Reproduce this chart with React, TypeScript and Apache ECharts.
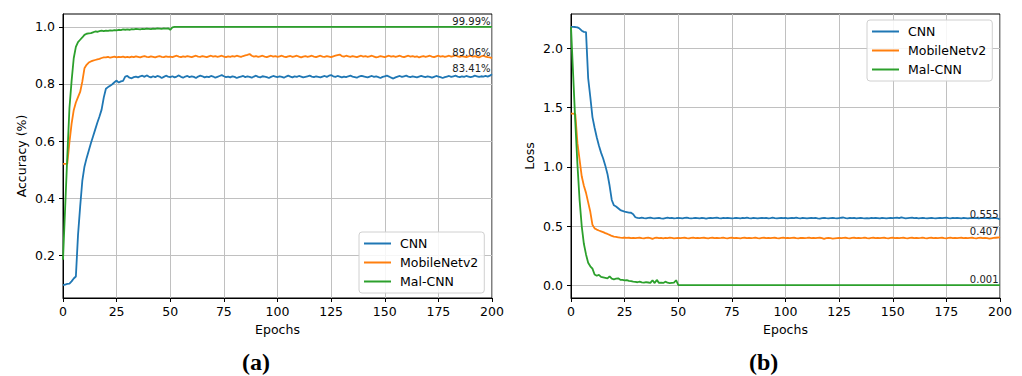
import React, { useEffect, useRef } from "react";
import * as echarts from "echarts";

const names = ["CNN", "MobileNetv2", "Mal-CNN"];
const colors = ["#1f77b4", "#ff7f0e", "#2ca02c"];

const accTicks = [0.2, 0.4, 0.6, 0.8, 1.0];
const lossTicks = [0.0, 0.5, 1.0, 1.5, 2.0];
const accFinal = [83.41, 89.06, 99.99];
const lossFinal = [0.555, 0.407, 0.001];

// Accuracy, epochs 0..200
const cnnAcc = [
  0.095, 0.097, 0.099, 0.100, 0.108, 0.118, 0.125, 0.270, 0.370, 0.460,
  0.510, 0.540, 0.566, 0.592, 0.616, 0.640, 0.664, 0.686, 0.710, 0.752,
  0.783, 0.789, 0.794, 0.799, 0.806, 0.812, 0.805, 0.809, 0.811, 0.826,
  0.828, 0.822, 0.820, 0.824, 0.826, 0.823, 0.827, 0.829, 0.825, 0.830,
  0.826, 0.823, 0.827, 0.824, 0.828, 0.826, 0.821, 0.825, 0.829, 0.826,
  0.824, 0.827, 0.823, 0.826, 0.830, 0.825, 0.822, 0.826, 0.828, 0.824,
  0.827, 0.825, 0.821, 0.826, 0.829, 0.827, 0.823, 0.826, 0.824, 0.828,
  0.826, 0.822, 0.825, 0.828, 0.831, 0.827, 0.824, 0.826, 0.823, 0.827,
  0.825, 0.821, 0.824, 0.826, 0.828, 0.824, 0.827, 0.825, 0.822, 0.826,
  0.829, 0.825, 0.823, 0.827, 0.826, 0.824, 0.821, 0.825, 0.828, 0.826,
  0.824, 0.827, 0.825, 0.822, 0.826, 0.829, 0.826, 0.823, 0.827, 0.825,
  0.828, 0.826, 0.823, 0.825, 0.827, 0.829, 0.826, 0.824, 0.827, 0.825,
  0.823, 0.826, 0.828, 0.825, 0.829, 0.831, 0.827, 0.825, 0.828, 0.826,
  0.823, 0.826, 0.824, 0.827, 0.829, 0.826, 0.824, 0.822, 0.826, 0.828,
  0.827, 0.825, 0.823, 0.826, 0.828, 0.825, 0.827, 0.824, 0.821, 0.825,
  0.827, 0.829, 0.826, 0.822, 0.819, 0.823, 0.826, 0.828, 0.825, 0.827,
  0.829, 0.826, 0.824, 0.827, 0.825, 0.823, 0.826, 0.828, 0.826, 0.824,
  0.827, 0.825, 0.822, 0.825, 0.828, 0.826, 0.824, 0.821, 0.824, 0.826,
  0.828, 0.825, 0.827, 0.829, 0.826, 0.824, 0.827, 0.825, 0.828, 0.826,
  0.824, 0.826, 0.829, 0.827, 0.825, 0.827, 0.826, 0.828, 0.826, 0.829,
  0.834,
];

const mobAcc = [
  0.520, 0.520, 0.521, 0.595, 0.660, 0.708, 0.735, 0.754, 0.772, 0.808,
  0.855, 0.867, 0.875, 0.879, 0.882, 0.884, 0.886, 0.888, 0.891, 0.893,
  0.893, 0.895, 0.892, 0.894, 0.896, 0.893, 0.895, 0.894, 0.896, 0.893,
  0.895, 0.893, 0.896, 0.894, 0.897, 0.895, 0.893, 0.896, 0.898, 0.895,
  0.894, 0.897, 0.895, 0.893, 0.896, 0.898, 0.895, 0.894, 0.897, 0.895,
  0.896, 0.894, 0.897, 0.899, 0.896, 0.894, 0.897, 0.895, 0.898, 0.896,
  0.894, 0.897, 0.899, 0.896, 0.895, 0.898, 0.896, 0.894, 0.897, 0.899,
  0.896, 0.898, 0.895, 0.897, 0.899, 0.896, 0.894, 0.897, 0.895, 0.898,
  0.896, 0.899, 0.897, 0.895, 0.898, 0.900, 0.902, 0.905, 0.899, 0.896,
  0.898, 0.895, 0.897, 0.899, 0.896, 0.894, 0.897, 0.899, 0.896, 0.898,
  0.895, 0.897, 0.899, 0.896, 0.894, 0.897, 0.898, 0.895, 0.897, 0.899,
  0.896, 0.893, 0.896, 0.898, 0.895, 0.897, 0.899, 0.896, 0.894, 0.897,
  0.899, 0.896, 0.895, 0.898, 0.896, 0.894, 0.897, 0.899, 0.901, 0.903,
  0.898, 0.896, 0.899, 0.897, 0.895, 0.898, 0.896, 0.894, 0.897, 0.899,
  0.896, 0.898, 0.895, 0.897, 0.899, 0.896, 0.893, 0.895, 0.898, 0.896,
  0.894, 0.897, 0.899, 0.896, 0.898, 0.895, 0.897, 0.899, 0.896, 0.894,
  0.897, 0.899, 0.896, 0.898, 0.895, 0.897, 0.893, 0.896, 0.898, 0.895,
  0.897, 0.899, 0.896, 0.894, 0.897, 0.899, 0.896, 0.898, 0.895, 0.897,
  0.899, 0.896, 0.898, 0.900, 0.897, 0.895, 0.898, 0.896, 0.894, 0.897,
  0.899, 0.896, 0.898, 0.895, 0.893, 0.897, 0.899, 0.896, 0.894, 0.893,
  0.8906,
];

const malAcc = [
  0.184, 0.365, 0.545, 0.715, 0.810, 0.890, 0.930, 0.947, 0.955, 0.963,
  0.972, 0.976, 0.977, 0.978, 0.981, 0.984, 0.983, 0.985, 0.987, 0.985,
  0.987, 0.986, 0.988, 0.987, 0.989, 0.988, 0.990, 0.989, 0.991, 0.990,
  0.991, 0.990, 0.992, 0.991, 0.993, 0.992, 0.991, 0.993, 0.992, 0.994,
  0.993, 0.992, 0.994, 0.993, 0.995, 0.994, 0.993, 0.995, 0.994, 0.995,
  0.990, 0.998, 0.9999, 0.9999, 0.9998, 0.9999, 0.9999, 0.9999, 0.9998, 0.9999,
  0.9999, 0.9999, 0.9998, 0.9999, 0.9999, 0.9999, 0.9999, 0.9998, 0.9999, 0.9999,
  0.9999, 0.9998, 0.9999, 0.9999, 0.9999, 0.9999, 0.9999, 0.9998, 0.9999, 0.9999,
  0.9999, 0.9999, 0.9999, 0.9998, 0.9999, 0.9999, 0.9999, 0.9999, 0.9998, 0.9999,
  0.9999, 0.9999, 0.9998, 0.9999, 0.9999, 0.9999, 0.9999, 0.9999, 0.9998, 0.9999,
  0.9999, 0.9998, 0.9999, 0.9999, 0.9999, 0.9999, 0.9998, 0.9999, 0.9999, 0.9999,
  0.9999, 0.9999, 0.9999, 0.9998, 0.9999, 0.9999, 0.9999, 0.9999, 0.9998, 0.9999,
  0.9999, 0.9999, 0.9998, 0.9999, 0.9999, 0.9999, 0.9999, 0.9998, 0.9999, 0.9999,
  0.9999, 0.9998, 0.9999, 0.9999, 0.9999, 0.9999, 0.9999, 0.9998, 0.9999, 0.9999,
  0.9999, 0.9999, 0.9999, 0.9998, 0.9999, 0.9999, 0.9999, 0.9999, 0.9998, 0.9999,
  0.9999, 0.9999, 0.9998, 0.9999, 0.9999, 0.9999, 0.9999, 0.9999, 0.9998, 0.9999,
  0.9999, 0.9998, 0.9999, 0.9999, 0.9999, 0.9999, 0.9998, 0.9999, 0.9999, 0.9999,
  0.9999, 0.9999, 0.9999, 0.9998, 0.9999, 0.9999, 0.9999, 0.9999, 0.9998, 0.9999,
  0.9999, 0.9999, 0.9998, 0.9999, 0.9999, 0.9999, 0.9999, 0.9998, 0.9999, 0.9999,
  0.9999, 0.9998, 0.9999, 0.9999, 0.9999, 0.9999, 0.9999, 0.9998, 0.9999, 0.9999,
  0.9999,
];

// Loss, epochs 0..200
const cnnLoss = [
  2.182, 2.182, 2.181, 2.178, 2.168, 2.150, 2.140, 2.138, 1.750, 1.590,
  1.420, 1.330, 1.250, 1.180, 1.120, 1.070, 1.010, 0.940, 0.840, 0.720,
  0.675, 0.665, 0.650, 0.635, 0.628, 0.622, 0.618, 0.614, 0.612, 0.600,
  0.574,
  0.568, 0.566, 0.570, 0.567, 0.565, 0.568, 0.571, 0.566, 0.564, 0.567,
  0.569, 0.565, 0.563, 0.567, 0.570, 0.566, 0.568, 0.564, 0.566, 0.569,
  0.567, 0.565, 0.568, 0.571, 0.567, 0.564, 0.566, 0.569, 0.567, 0.565,
  0.568, 0.566, 0.563, 0.567, 0.569, 0.566, 0.568, 0.570, 0.567, 0.565,
  0.568, 0.566, 0.569, 0.567, 0.564, 0.566, 0.569, 0.567, 0.565, 0.568,
  0.566, 0.570, 0.567, 0.565, 0.568, 0.566, 0.564, 0.567, 0.569, 0.566,
  0.568, 0.565, 0.567, 0.570, 0.566, 0.564, 0.567, 0.569, 0.566, 0.568,
  0.565, 0.567, 0.569, 0.566, 0.571, 0.567, 0.565, 0.568, 0.566, 0.564,
  0.567, 0.569, 0.566, 0.568, 0.565, 0.563, 0.566, 0.568, 0.566, 0.565,
  0.567, 0.569, 0.566, 0.564, 0.567, 0.570, 0.572, 0.567, 0.565, 0.568,
  0.566, 0.568, 0.565, 0.567, 0.569, 0.566, 0.564, 0.567, 0.565, 0.568,
  0.566, 0.569, 0.567, 0.565, 0.568, 0.566, 0.564, 0.567, 0.569, 0.566,
  0.568, 0.570, 0.566, 0.573, 0.568, 0.565, 0.567, 0.569, 0.571, 0.566,
  0.568, 0.565, 0.567, 0.569, 0.566, 0.564, 0.567, 0.568, 0.566, 0.565,
  0.567, 0.569, 0.566, 0.568, 0.570, 0.567, 0.565, 0.568, 0.566, 0.569,
  0.567, 0.565, 0.568, 0.566, 0.564, 0.567, 0.569, 0.566, 0.568, 0.565,
  0.567, 0.569, 0.566, 0.568, 0.565, 0.567, 0.569, 0.566, 0.564, 0.555,
];

const mobLoss = [
  1.450, 1.450, 1.445, 1.200, 1.060, 0.920, 0.840, 0.780, 0.700, 0.620,
  0.510, 0.480, 0.470, 0.462, 0.455, 0.448, 0.440, 0.433, 0.425, 0.416,
  0.410, 0.408, 0.405, 0.402, 0.400, 0.403, 0.399, 0.401, 0.398, 0.400,
  0.397, 0.399, 0.401, 0.398, 0.396, 0.400, 0.402, 0.398, 0.391, 0.399,
  0.401, 0.397, 0.399, 0.396, 0.400, 0.398, 0.402, 0.399, 0.396, 0.398,
  0.400, 0.397, 0.399, 0.401, 0.398, 0.396, 0.399, 0.402, 0.398, 0.400,
  0.397, 0.399, 0.401, 0.398, 0.395, 0.399, 0.401, 0.398, 0.400, 0.397,
  0.399, 0.402, 0.398, 0.396, 0.399, 0.401, 0.397, 0.400, 0.398, 0.396,
  0.399, 0.401, 0.398, 0.400, 0.397, 0.399, 0.402, 0.398, 0.396, 0.399,
  0.401, 0.398, 0.400, 0.397, 0.399, 0.401, 0.398, 0.396, 0.399, 0.402,
  0.398, 0.400, 0.397, 0.399, 0.401, 0.398, 0.396, 0.399, 0.400, 0.397,
  0.399, 0.402, 0.398, 0.400, 0.397, 0.399, 0.401, 0.398, 0.392, 0.397,
  0.399, 0.397, 0.394, 0.396, 0.398, 0.400, 0.397, 0.399, 0.401, 0.398,
  0.396, 0.399, 0.401, 0.398, 0.400, 0.397, 0.399, 0.402, 0.398, 0.396,
  0.399, 0.401, 0.398, 0.400, 0.397, 0.399, 0.401, 0.398, 0.396, 0.399,
  0.402, 0.398, 0.400, 0.397, 0.399, 0.401, 0.398, 0.396, 0.399, 0.401,
  0.398, 0.400, 0.397, 0.399, 0.402, 0.398, 0.396, 0.399, 0.401, 0.398,
  0.400, 0.397, 0.399, 0.401, 0.398, 0.396, 0.399, 0.402, 0.398, 0.400,
  0.397, 0.399, 0.401, 0.398, 0.400, 0.397, 0.399, 0.401, 0.398, 0.396,
  0.399, 0.401, 0.398, 0.400, 0.397, 0.393, 0.396, 0.399, 0.401, 0.403,
  0.407,
];

const malLoss = [
  2.180, 1.780, 1.380, 1.020, 0.720, 0.500, 0.350, 0.260, 0.190, 0.160,
  0.140, 0.090, 0.080, 0.087, 0.070, 0.066, 0.062, 0.058, 0.075, 0.055,
  0.050, 0.055, 0.058, 0.046, 0.045, 0.040, 0.043, 0.036, 0.034, 0.030,
  0.028, 0.025, 0.030, 0.024, 0.022, 0.026, 0.023, 0.020, 0.042, 0.018,
  0.045, 0.020, 0.022, 0.019, 0.030, 0.021, 0.018, 0.020, 0.022, 0.042,
  0.002, 0.001, 0.001, 0.001, 0.001, 0.001, 0.001, 0.001, 0.001, 0.001,
  0.001, 0.001, 0.001, 0.001, 0.001, 0.001, 0.001, 0.001, 0.001, 0.001,
  0.001, 0.001, 0.001, 0.001, 0.001, 0.001, 0.001, 0.001, 0.001, 0.001,
  0.001, 0.001, 0.001, 0.001, 0.001, 0.001, 0.001, 0.001, 0.001, 0.001,
  0.001, 0.001, 0.001, 0.001, 0.001, 0.001, 0.001, 0.001, 0.001, 0.001,
  0.001, 0.001, 0.001, 0.001, 0.001, 0.001, 0.001, 0.001, 0.001, 0.001,
  0.001, 0.001, 0.001, 0.001, 0.001, 0.001, 0.001, 0.001, 0.001, 0.001,
  0.001, 0.001, 0.001, 0.001, 0.001, 0.001, 0.001, 0.001, 0.001, 0.001,
  0.001, 0.001, 0.001, 0.001, 0.001, 0.001, 0.001, 0.001, 0.001, 0.001,
  0.001, 0.001, 0.001, 0.001, 0.001, 0.001, 0.001, 0.001, 0.001, 0.001,
  0.001, 0.001, 0.001, 0.001, 0.001, 0.001, 0.001, 0.001, 0.001, 0.001,
  0.001, 0.001, 0.001, 0.001, 0.001, 0.001, 0.001, 0.001, 0.001, 0.001,
  0.001, 0.001, 0.001, 0.001, 0.001, 0.001, 0.001, 0.001, 0.001, 0.001,
  0.001, 0.001, 0.001, 0.001, 0.001, 0.001, 0.001, 0.001, 0.001, 0.001,
  0.001, 0.001, 0.001, 0.001, 0.001, 0.001, 0.001, 0.001, 0.001, 0.001,
  0.001,
];

const FONT = "DejaVu Sans";
const TICK_FS = 12.5;

function xAxisCfg(gridIndex: number) {
  return {
    gridIndex,
    type: "value",
    min: 0,
    max: 200,
    interval: 25,
    name: "Epochs",
    nameLocation: "middle",
    nameGap: 25,
    nameTextStyle: { fontFamily: FONT, fontSize: TICK_FS, color: "#000" },
    axisLine: { show: true, onZero: false, lineStyle: { color: "#000", width: 1 } },
    axisTick: { show: true, inside: false, length: 4, lineStyle: { color: "#000", width: 1 } },
    axisLabel: { fontFamily: FONT, fontSize: TICK_FS, color: "#000", margin: 7 },
    splitLine: { show: true, lineStyle: { color: "#c0c0c0", width: 1 } },
  };
}

function yAxisCfg(gridIndex: number, name: string, min: number, max: number, ticks: number[]) {
  return {
    gridIndex,
    type: "value",
    min,
    max,
    name,
    nameLocation: "middle",
    nameGap: 35,
    nameTextStyle: { fontFamily: FONT, fontSize: TICK_FS, color: "#000" },
    axisLine: { show: true, onZero: false, lineStyle: { color: "#000", width: 1 } },
    axisTick: { show: true, inside: false, length: 4, customValues: ticks, lineStyle: { color: "#000", width: 1 } },
    axisLabel: {
      fontFamily: FONT,
      fontSize: TICK_FS,
      color: "#000",
      margin: 8,
      customValues: ticks,
      formatter: (v: number) => v.toFixed(1),
    },
    splitLine: { show: true, lineStyle: { color: "#c0c0c0", width: 1 } },
  };
}

function legendCfg(left: number, top: number) {
  return {
    left,
    top,
    orient: "vertical",
    icon: "rect",
    itemWidth: 27,
    itemHeight: 2,
    itemGap: 4,
    padding: [4, 6, 4, 5],
    backgroundColor: "rgba(255,255,255,0.85)",
    borderColor: "#d0d0d0",
    borderWidth: 1,
    borderRadius: 3,
    textStyle: { fontFamily: FONT, fontSize: TICK_FS, color: "#000", padding: [0, 0, 0, 4], lineHeight: 15 },
    data: names,
  };
}

function endMark(x: number, y: number, text: string) {
  return {
    symbol: "circle",
    symbolSize: 1,
    itemStyle: { color: "rgba(0,0,0,0)" },
    silent: true,
    data: [{ coord: [x, y] }],
    label: {
      show: true,
      position: [0, 0],
      align: "right",
      verticalAlign: "bottom",
      offset: [-1, 0],
      formatter: text,
      fontFamily: FONT,
      fontSize: 10,
      color: "#222",
    },
  };
}

function lineSeries(i: number, data: number[], axisIndex: number, mark: any) {
  return {
    name: names[i],
    type: "line",
    xAxisIndex: axisIndex,
    yAxisIndex: axisIndex,
    data: data.map((v, e) => [e, v]),
    symbol: "none",
    showSymbol: false,
    color: colors[i],
    lineStyle: { color: colors[i], width: 1.8 },
    z: 3 + i,
    markPoint: mark,
  };
}

const accSeries = [cnnAcc, mobAcc, malAcc];
const lossSeries = [cnnLoss, mobLoss, malLoss];

export default function App() {
  const ref = useRef<HTMLDivElement>(null);
  useEffect(() => {
    if (!ref.current) return;
    const chart = echarts.init(ref.current, null, { renderer: "svg" });
    const series: any[] = [];
    accSeries.forEach((d, i) => {
      const last = d[d.length - 1];
      series.push(lineSeries(i, d, 0, endMark(d.length - 1, last, accFinal[i].toFixed(2) + "%")));
    });
    lossSeries.forEach((d, i) => {
      const last = d[d.length - 1];
      series.push(lineSeries(i, d, 1, endMark(d.length - 1, last, lossFinal[i].toFixed(3))));
    });
    const richLbl = {
      p: { fontFamily: "Liberation Serif", fontSize: 24, color: "#000" },
      b: { fontFamily: "Liberation Serif", fontSize: 24, fontWeight: "bold", color: "#000" },
    };
    chart.setOption({
      animation: false,
      backgroundColor: "#fff",
      title: [
        { text: "{p|(}{b|a}{p|)}", left: 242, top: 350, padding: 0, textStyle: { rich: richLbl } },
        { text: "{p|(}{b|b}{p|)}", left: 749, top: 350, padding: 0, textStyle: { rich: richLbl } },
      ],
      grid: [
        { left: 63, top: 14, width: 429, height: 284, show: true, borderColor: "#000", borderWidth: 1, backgroundColor: "transparent" },
        { left: 571, top: 14, width: 429, height: 284, show: true, borderColor: "#000", borderWidth: 1, backgroundColor: "transparent" },
      ],
      xAxis: [xAxisCfg(0), xAxisCfg(1)],
      yAxis: [
        yAxisCfg(0, "Accuracy (%)", 0.04975, 1.04525, accTicks),
        yAxisCfg(1, "Loss", -0.108, 2.291, lossTicks),
      ],
      legend: [legendCfg(359, 232), legendCfg(867, 20)],
      series,
    });
    return () => chart.dispose();
  }, []);
  return (
    <div
      ref={ref}
      style={{ position: "absolute", left: 0, top: 0, width: 1022, height: 376, background: "#fff" }}
    />
  );
}
